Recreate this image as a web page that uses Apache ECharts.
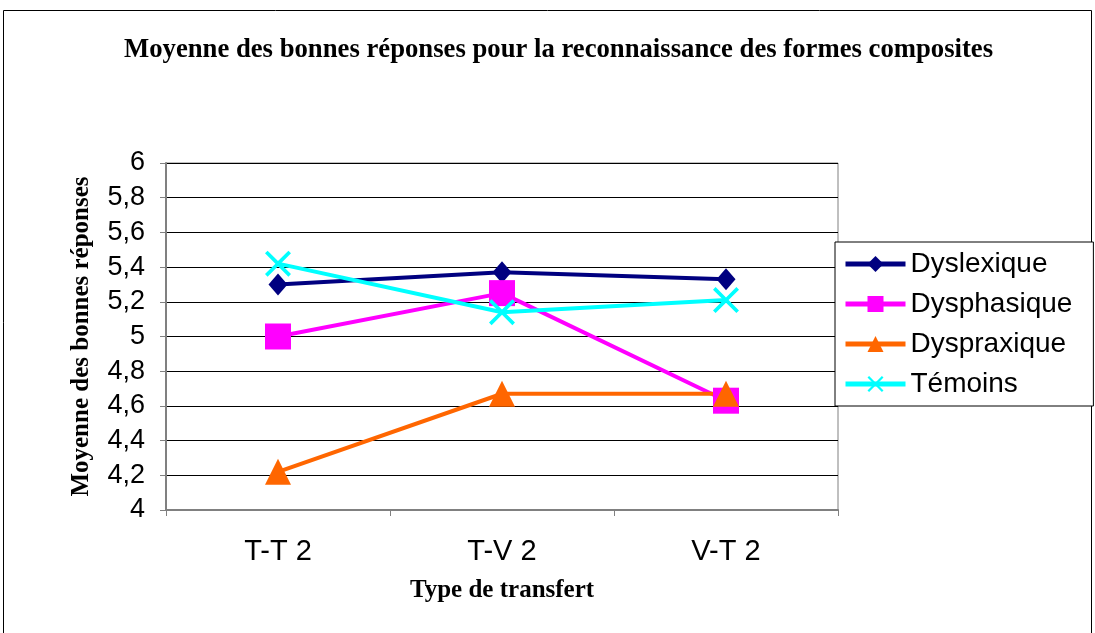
<!DOCTYPE html>
<html style="height: 100%" lang="fr">
<head>
    <meta charset="UTF-8">
    <title>Moyenne des bonnes réponses</title>
</head>
<body style="height: 100%; margin: 0; background: #fff">
<div id="main" style="width: 1095px; height: 633px"></div>

<script src="https://cdn.jsdelivr.net/npm/echarts@6/dist/echarts.min.js"></script>
<script type="text/javascript">
    // données
    var categories = ['T-T 2', 'T-V 2', 'V-T 2'];
    var dyslexique = [5.30, 5.37, 5.33];
    var dysphasique = [5.00, 5.25, 4.63];
    var dyspraxique = [4.22, 4.67, 4.67];
    var temoins = [5.42, 5.14, 5.21];
    var yTicks = ['4', '4,2', '4,4', '4,6', '4,8', '5', '5,2', '5,4', '5,6', '5,8', '6'];

    var crossPath = 'path://M0,1L1,0L5,4L9,0L10,1L6,5L10,9L9,10L5,6L1,10L0,9L4,5Z';

    var myChart = echarts.init(document.getElementById('main'));

    function mkSerie(name, data, color, symbol, size) {
        return {
            name: name,
            type: 'line',
            data: data,
            symbol: symbol,
            symbolSize: size,
            showAllSymbol: true,
            lineStyle: { color: color, width: 4 },
            itemStyle: { color: color },
            emphasis: { disabled: true }
        };
    }

    var option = {
        backgroundColor: '#fff',
        animation: false,
        title: {
            text: 'Moyenne des bonnes réponses pour la reconnaissance des formes composites',
            left: 119,
            top: 32,
            textStyle: {
                fontFamily: 'Liberation Serif',
                fontWeight: 'bold',
                fontSize: 26.7,
                color: '#000'
            }
        },
        graphic: [{
            type: 'rect',
            shape: { x: 3.5, y: 10.5, width: 1088, height: 640 },
            style: { fill: 'none', stroke: '#000', lineWidth: 1 },
            silent: true
        }],
        legend: {
            orient: 'vertical',
            left: 835,
            top: 242,
            padding: [8, 21, 8, 8],
            itemGap: 12,
            itemWidth: 60,
            itemHeight: 20,
            borderColor: '#000',
            borderWidth: 1,
            backgroundColor: '#fff',
            lineStyle: { width: 5 },
            textStyle: { fontFamily: 'Liberation Sans', fontSize: 28, color: '#000' },
            data: ['Dyslexique', 'Dysphasique', 'Dyspraxique', 'Témoins']
        },
        grid: {
            left: 166,
            right: 257,
            top: 163,
            bottom: 123,
            show: true,
            borderColor: '#808080',
            borderWidth: 1
        },
        xAxis: {
            type: 'category',
            data: categories,
            name: 'Type de transfert',
            nameLocation: 'middle',
            nameGap: 68,
            nameTextStyle: {
                fontFamily: 'Liberation Serif',
                fontWeight: 'bold',
                fontSize: 25,
                color: '#000'
            },
            axisLine: { lineStyle: { color: '#808080', width: 2 } },
            axisTick: { show: true, length: 6, lineStyle: { color: '#808080', width: 1 } },
            axisLabel: { fontFamily: 'Liberation Sans', fontSize: 29, color: '#000', margin: 27 }
        },
        yAxis: {
            type: 'value',
            min: 4,
            max: 6,
            interval: 0.2,
            name: 'Moyenne des bonnes réponses',
            nameLocation: 'middle',
            nameGap: 72,
            nameTextStyle: {
                fontFamily: 'Liberation Serif',
                fontWeight: 'bold',
                fontSize: 25,
                color: '#000'
            },
            axisLine: { show: true, lineStyle: { color: '#808080', width: 2 } },
            axisTick: { show: true, length: 6, lineStyle: { color: '#808080' } },
            axisLabel: {
                fontFamily: 'Liberation Sans',
                fontSize: 27,
                color: '#000',
                margin: 21,
                formatter: function (v) {
                    return yTicks[Math.round((v - 4) / 0.2)];
                }
            },
            splitLine: { lineStyle: { color: '#000', width: 1 } }
        },
        series: [
            mkSerie('Dyslexique', dyslexique, '#000080', 'diamond', [19, 22]),
            mkSerie('Dysphasique', dysphasique, '#FF00FF', 'rect', 26),
            mkSerie('Dyspraxique', dyspraxique, '#FF6600', 'triangle', 26),
            mkSerie('Témoins', temoins, '#00FFFF', crossPath, 26)
        ]
    };

    myChart.setOption(option);
</script>
</body>
</html>
